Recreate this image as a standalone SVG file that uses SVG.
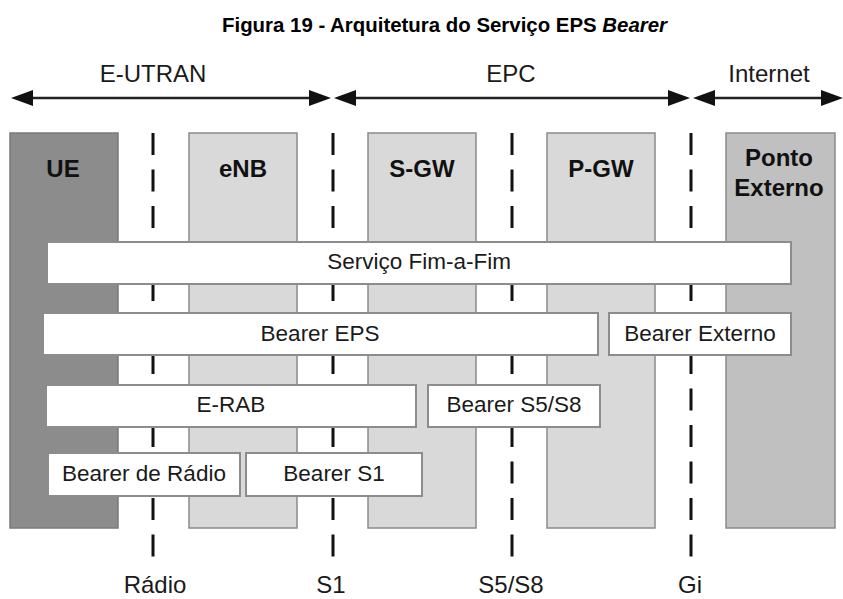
<svg xmlns="http://www.w3.org/2000/svg" width="843" height="599" viewBox="0 0 843 599">
<style>
.title{font-family:"Liberation Sans",Arial,sans-serif;font-weight:bold;font-size:20px;fill:#000}
.lbl{font-family:"Liberation Sans",Arial,sans-serif;font-size:24px;fill:#1a1a1a;text-anchor:middle}
.node{font-family:"Liberation Sans",Arial,sans-serif;font-weight:bold;font-size:24px;fill:#111;text-anchor:middle}
.btxt{font-family:"Liberation Sans",Arial,sans-serif;font-size:22.5px;fill:#1a1a1a;text-anchor:middle}
.light{fill:#d9d9d9;stroke:#8a8a8a;stroke-width:1.5}
.dark{fill:#8c8c8c;stroke:#7a7a7a;stroke-width:1.5}
.mid{fill:#c0c0c0;stroke:#8a8a8a;stroke-width:1.5}
.bar{fill:#fff;stroke:#8c8c8c;stroke-width:2}
.dash{stroke:#111;stroke-width:3;stroke-dasharray:22 14.5;fill:none}
.arr{stroke:#222;stroke-width:2.5;fill:none;marker-start:url(#ah);marker-end:url(#ah)}
</style>
<defs>
<marker id="ah" markerUnits="userSpaceOnUse" markerWidth="22" markerHeight="16" refX="16" refY="8" orient="auto-start-reverse">
<path d="M0,0 L22,8 L0,16 z" fill="#111"/>
</marker>
</defs>
<rect width="843" height="599" fill="#fff"/>
<text class="title" x="222" y="32" textLength="445" lengthAdjust="spacingAndGlyphs">Figura 19 - Arquitetura do Serviço EPS <tspan font-style="italic">Bearer</tspan></text>

<g id="domains">
<text class="lbl" x="153" y="82">E-UTRAN</text>
<text class="lbl" x="511" y="82">EPC</text>
<text class="lbl" x="769" y="82">Internet</text>
</g>

<g id="connectors">
<line class="arr" x1="17" y1="98" x2="325" y2="98"/>
<line class="arr" x1="340" y1="98" x2="684" y2="98"/>
<line class="arr" x1="699" y1="98" x2="837" y2="98"/>
</g>

<g id="node-UE"><rect class="dark" x="10" y="133" width="108" height="395"/><text class="node" x="63" y="177">UE</text></g>
<g id="node-eNB"><rect class="light" x="189" y="133" width="108" height="395"/><text class="node" x="243" y="177">eNB</text></g>
<g id="node-SGW"><rect class="light" x="368" y="133" width="108" height="395"/><text class="node" x="422" y="177">S-GW</text></g>
<g id="node-PGW"><rect class="light" x="547" y="133" width="108" height="395"/><text class="node" x="601" y="177">P-GW</text></g>
<g id="node-PontoExterno"><rect class="mid" x="726" y="133" width="109" height="395"/><text class="node" x="779" y="166">Ponto</text><text class="node" x="779" y="196">Externo</text></g>

<g id="interfaces">
<line class="dash" x1="153" y1="133" x2="153" y2="557"/>
<line class="dash" x1="333" y1="133" x2="333" y2="557"/>
<line class="dash" x1="512" y1="133" x2="512" y2="557"/>
<line class="dash" x1="691" y1="133" x2="691" y2="557"/>
<text class="lbl" x="155" y="593">Rádio</text>
<text class="lbl" x="331" y="593">S1</text>
<text class="lbl" x="511" y="593">S5/S8</text>
<text class="lbl" x="690" y="593">Gi</text>
</g>

<g id="bar-servico"><rect class="bar" x="47" y="242" width="744" height="42"/><text class="btxt" x="419" y="269">Serviço Fim-a-Fim</text></g>
<g id="bar-bearer-eps"><rect class="bar" x="43" y="313" width="555" height="42"/><text class="btxt" x="320" y="341">Bearer EPS</text></g>
<g id="bar-bearer-externo"><rect class="bar" x="609" y="313" width="182" height="42"/><text class="btxt" x="700" y="341">Bearer Externo</text></g>
<g id="bar-erab"><rect class="bar" x="46" y="385" width="370" height="42"/><text class="btxt" x="231" y="412">E-RAB</text></g>
<g id="bar-bearer-s5s8"><rect class="bar" x="428" y="385" width="172" height="42"/><text class="btxt" x="514" y="412">Bearer S5/S8</text></g>
<g id="bar-bearer-radio"><rect class="bar" x="48" y="453" width="192" height="43"/><text class="btxt" x="144" y="481">Bearer de Rádio</text></g>
<g id="bar-bearer-s1"><rect class="bar" x="246" y="453" width="176" height="43"/><text class="btxt" x="334" y="481">Bearer S1</text></g>
</svg>
